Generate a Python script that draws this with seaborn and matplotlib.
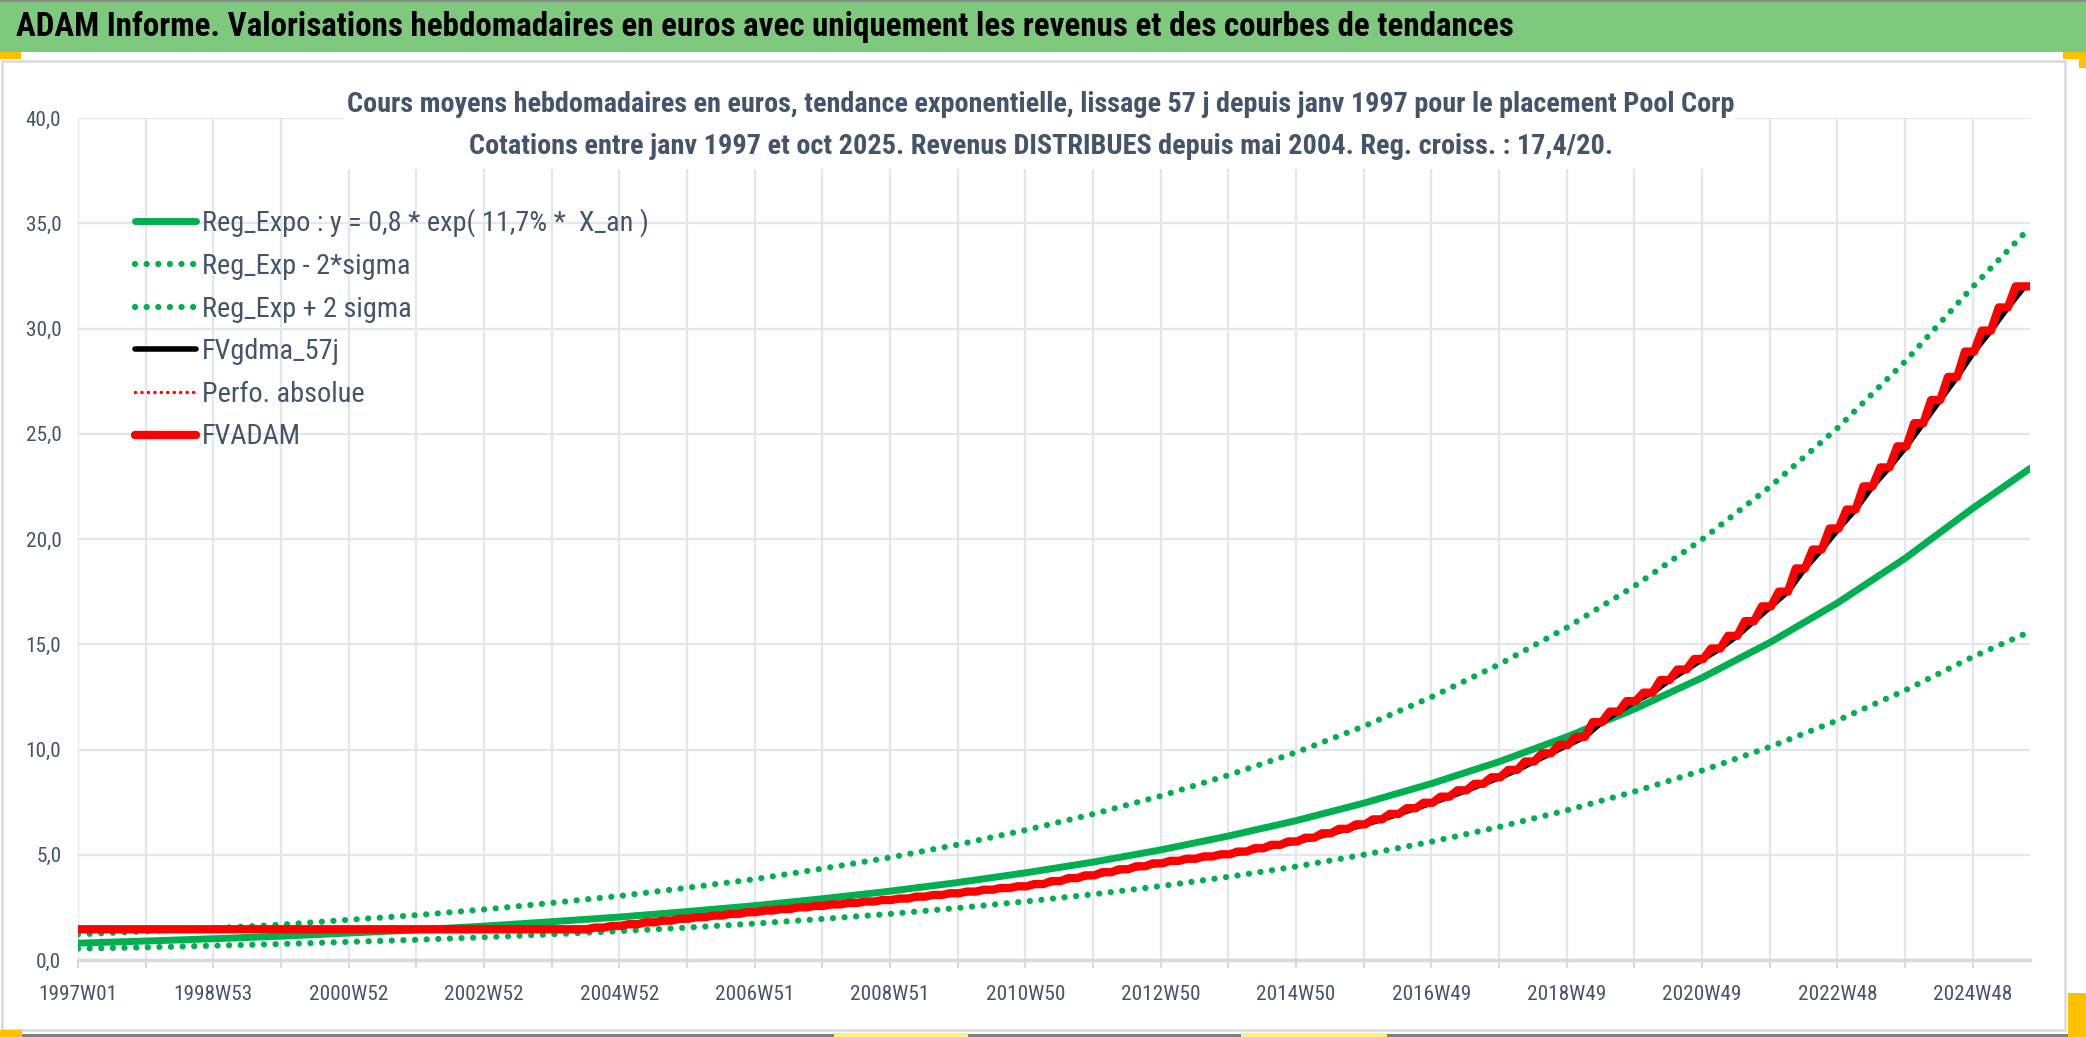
import matplotlib
matplotlib.use("Agg")
import matplotlib.pyplot as plt
import seaborn as sns
from matplotlib.patches import Rectangle

# ---------------- Data ----------------
# x = week index, 0 = 1997W01 ; trend values every 52 weeks + last week
reg_weeks = [0, 52, 104, 156, 208, 260, 312, 364, 416, 468, 520, 572, 624, 676, 728,
             780, 832, 884, 936, 988, 1040, 1092, 1144, 1196, 1248, 1300, 1352, 1404, 1456, 1500]
reg_expo = [0.80, 0.90, 1.01, 1.13, 1.28, 1.43, 1.61, 1.82, 2.04, 2.30, 2.58, 2.91, 3.27, 3.68, 4.14,
            4.65, 5.23, 5.89, 6.62, 7.45, 8.38, 9.42, 10.60, 11.92, 13.41, 15.08, 16.96, 19.08, 21.46, 23.35]
reg_minus = [0.54, 0.60, 0.68, 0.76, 0.86, 0.96, 1.08, 1.22, 1.37, 1.54, 1.73, 1.95, 2.19, 2.47, 2.78,
             3.12, 3.51, 3.95, 4.44, 5.00, 5.62, 6.32, 7.11, 8.00, 9.00, 10.12, 11.38, 12.81, 14.40, 15.60]
reg_plus = [1.22, 1.36, 1.51, 1.68, 1.91, 2.13, 2.40, 2.71, 3.04, 3.43, 3.84, 4.34, 4.87, 5.48, 6.17,
            6.93, 7.79, 8.78, 9.86, 11.10, 12.49, 14.04, 15.79, 17.76, 19.98, 22.47, 25.27, 28.43, 31.98, 34.80]

# FVADAM : flat until mai 2004, then one level per quarter (13 weeks)
fvadam_start = 1.46
q_first_week = 384
q_weeks = 13
last_week = 1500
fvadam_q = [1.46, 1.54, 1.62, 1.70, 1.79, 1.87, 1.96, 2.03, 2.11, 2.19,
            2.27, 2.35, 2.42, 2.50, 2.57, 2.64, 2.71, 2.78, 2.85, 2.92,
            3.01, 3.09, 3.17, 3.25, 3.34, 3.42, 3.50, 3.61, 3.75, 3.89,
            4.02, 4.17, 4.31, 4.45, 4.59, 4.71, 4.81, 4.92, 5.02, 5.15,
            5.31, 5.47, 5.63, 5.81, 6.02, 6.23, 6.44, 6.68, 6.94, 7.21,
            7.47, 7.76, 8.06, 8.37, 8.68, 9.03, 9.43, 9.82, 10.22,
            10.6, 11.3, 11.8, 12.3, 12.7, 13.3, 13.8, 14.3, 14.8, 15.4,
            16.1, 16.8, 17.5, 18.6, 19.5, 20.5, 21.4, 22.5, 23.4, 24.4,
            25.5, 26.6, 27.7, 28.9, 29.9, 31.0, 32.0]

tick_weeks = [0, 104, 208, 312, 416, 520, 624, 728, 832, 936, 1040, 1144, 1248, 1352, 1456]
tick_labels = ["1997W01", "1998W53", "2000W52", "2002W52", "2004W52", "2006W51", "2008W51",
               "2010W50", "2012W50", "2014W50", "2016W49", "2018W49", "2020W49", "2022W48", "2024W48"]
y_ticks = [0, 5, 10, 15, 20, 25, 30, 35, 40]

header = "ADAM Informe. Valorisations hebdomadaires en euros avec uniquement les revenus et des courbes de tendances"
sub1 = "Cours moyens hebdomadaires en euros, tendance exponentielle, lissage 57 j depuis janv 1997 pour le placement Pool Corp"
sub2 = "Cotations entre janv 1997 et oct 2025. Revenus DISTRIBUES depuis mai 2004. Reg. croiss. : 17,4/20."

labels = ["Reg_Expo : y = 0,8 * exp( 11,7% *  X_an )", "Reg_Exp - 2*sigma", "Reg_Exp + 2 sigma",
          "FVgdma_57j", "Perfo. absolue", "FVADAM"]

# ---------------- Build step path ----------------
stair_x, stair_y = [0], [fvadam_start]
smooth_x, smooth_y = [0], [fvadam_start]
for j, v in enumerate(fvadam_q):
    s = q_first_week + j * q_weeks
    stair_x += [s, s + 7]
    stair_y += [v, v]
    smooth_x.append(s + 7)
    smooth_y.append(v)
stair_x.append(last_week)
stair_y.append(fvadam_q[-1])
smooth_x.append(last_week)
smooth_y.append(fvadam_q[-1])

# ---------------- Figure ----------------
sns.set_theme(style="white")
plt.rcParams["font.family"] = ["Roboto Condensed", "DejaVu Sans"]

W, H = 2086, 1037
fig = plt.figure(figsize=(W / 100, H / 100), dpi=100)
renderer = fig.canvas.get_renderer()


def fx(px):
    return px / W


def fy(py):
    return 1 - py / H


def fit_width(t, target):
    w = t.get_window_extent(renderer).width
    t.set_fontsize(t.get_fontsize() * target / w)


txt_col = "#44546A"
grid_col = "#E3E6EA"
green = "#00B050"
ochre = "#FFC000"

# header band and frame
fig.add_artist(Rectangle((0, fy(52)), 1, 52 / H, transform=fig.transFigure,
                         facecolor="#7FC97F", edgecolor="none", zorder=0))
fig.add_artist(Rectangle((0, fy(2)), 1, 2 / H, transform=fig.transFigure,
                         facecolor="#8C8C8C", edgecolor="none", zorder=0))
fig.add_artist(Rectangle((fx(2), fy(1030)), fx(2065) - fx(2), (1030 - 61) / H, transform=fig.transFigure,
                         facecolor="none", edgecolor="#D9D9D9", lw=1.8, zorder=0))
fig.add_artist(Rectangle((0, 0), 1, 3 / H, transform=fig.transFigure,
                         facecolor="#808080", edgecolor="none", zorder=1))
for (x0, y0, w, h, c) in [(0, 52, 21, 7, ochre), (2063, 52, 23, 7, ochre), (2079, 52, 7, 16, ochre),
                          (0, 1030, 22, 7, ochre), (2068, 993, 18, 44, ochre),
                          (834, 1033, 134, 4, "#FFF176"), (1241, 1033, 146, 4, "#FFF176")]:
    fig.add_artist(Rectangle((fx(x0), fy(y0 + h)), w / W, h / H, transform=fig.transFigure,
                             facecolor=c, edgecolor="none", zorder=2))

ax = fig.add_axes([fx(78), fy(960), fx(2030) - fx(78), (960 - 118) / H])

dots = (0, (0.01, 1.85))
sns.lineplot(x=reg_weeks, y=reg_expo, ax=ax, color=green, linewidth=5, label=labels[0],
             sort=False, estimator=None, zorder=3)
sns.lineplot(x=reg_weeks, y=reg_minus, ax=ax, color=green, linewidth=4.5, label=labels[1],
             linestyle=dots, dash_capstyle="round", sort=False, estimator=None, zorder=3)
sns.lineplot(x=reg_weeks, y=reg_plus, ax=ax, color=green, linewidth=4.5, label=labels[2],
             linestyle=dots, dash_capstyle="round", sort=False, estimator=None, zorder=3)
sns.lineplot(x=smooth_x, y=smooth_y, ax=ax, color="#FF0000", linewidth=2.5, label=labels[4],
             linestyle=dots, dash_capstyle="round", sort=False, estimator=None, zorder=3.5)
sns.lineplot(x=smooth_x, y=smooth_y, ax=ax, color="black", linewidth=4, label=labels[3],
             sort=False, estimator=None, zorder=4)
sns.lineplot(x=stair_x, y=stair_y, ax=ax, color="#FF0000", linewidth=6, label=labels[5],
             sort=False, estimator=None, zorder=5)

ax.set_xlim(0, last_week)
ax.set_ylim(0, 40)
ax.set_xticks(tick_weeks)
ax.set_xticklabels(tick_labels)
ax.set_xticks([w + 52 for w in tick_weeks[:-1]], minor=True)
ax.set_yticks(y_ticks)
ax.set_yticklabels([f"{v:.1f}".replace(".", ",") for v in y_ticks])
ax.set_xlabel("")
ax.set_ylabel("")

ax.grid(True, which="both", axis="x", color=grid_col, linewidth=1.6)
ax.grid(True, which="major", axis="y", color=grid_col, linewidth=1.6)
ax.set_axisbelow(True)
for side in ["left", "right", "top"]:
    ax.spines[side].set_visible(False)
ax.spines["bottom"].set_color("#D9D9D9")
ax.spines["bottom"].set_linewidth(2.5)

ax.tick_params(axis="x", which="both", length=6, width=1.5, color="#D9D9D9", direction="out",
               pad=12, labelsize=16, labelcolor=txt_col, bottom=True)
ax.tick_params(axis="y", length=0, pad=12, labelsize=16, labelcolor=txt_col)

# tick label size fitted on "1997W01" width (about 79 px)
fig.canvas.draw()
lab0 = ax.get_xticklabels()[0]
tick_fs = 16 * 79 / lab0.get_window_extent(renderer).width
ax.tick_params(axis="both", labelsize=tick_fs)

# legend: font fitted on first label width (about 445 px), rows 42.8 px apart
probe = fig.text(0, 0, labels[0], fontsize=19)
fit_width(probe, 445)
leg_fs = probe.get_fontsize()
probe.remove()
fs_px = leg_fs * 100 / 72
handles, labs = ax.get_legend_handles_labels()
order = [labs.index(l) for l in labels]
spacing = 0.45
anchor = [fx(135), fy(205)]
for _ in range(3):
    leg = ax.legend([handles[i] for i in order], [labs[i] for i in order],
                    loc="upper left", bbox_to_anchor=tuple(anchor), bbox_transform=fig.transFigure,
                    frameon=False, fontsize=leg_fs, handlelength=61 / fs_px, handletextpad=6 / fs_px,
                    labelspacing=spacing, borderpad=0, borderaxespad=0, labelcolor=txt_col)
    fig.canvas.draw()
    texts = leg.get_texts()
    b0 = texts[0].get_window_extent(renderer)
    b5 = texts[-1].get_window_extent(renderer)
    pitch = ((b0.y0 + b0.y1) - (b5.y0 + b5.y1)) / 2 / 5
    spacing += (42.8 - pitch) / fs_px
    cy = H - (b0.y0 + b0.y1) / 2
    anchor[1] += (cy - 223) / H
    anchor[0] += (202 - b0.x0) / W

# subtitle box hides the top grid like the original
fig.add_artist(Rectangle((fx(343), fy(169)), fx(1735) - fx(343), (169 - 85) / H, transform=fig.transFigure,
                         facecolor="white", edgecolor="none", zorder=3))
t1 = fig.text(fx(1041), fy(104), sub1, ha="center", va="center", fontsize=18, weight="bold",
              color=txt_col, zorder=4)
t2 = fig.text(fx(1041), fy(147), sub2, ha="center", va="center", fontsize=18, weight="bold",
              color=txt_col, zorder=4)
th = fig.text(fx(16), fy(27), header, ha="left", va="center", fontsize=22, weight="bold",
              color="black", zorder=4)
fit_width(t1, 1385)
fit_width(t2, 1142)
fit_width(th, 1497)

fig.savefig("out.png", dpi=100)
